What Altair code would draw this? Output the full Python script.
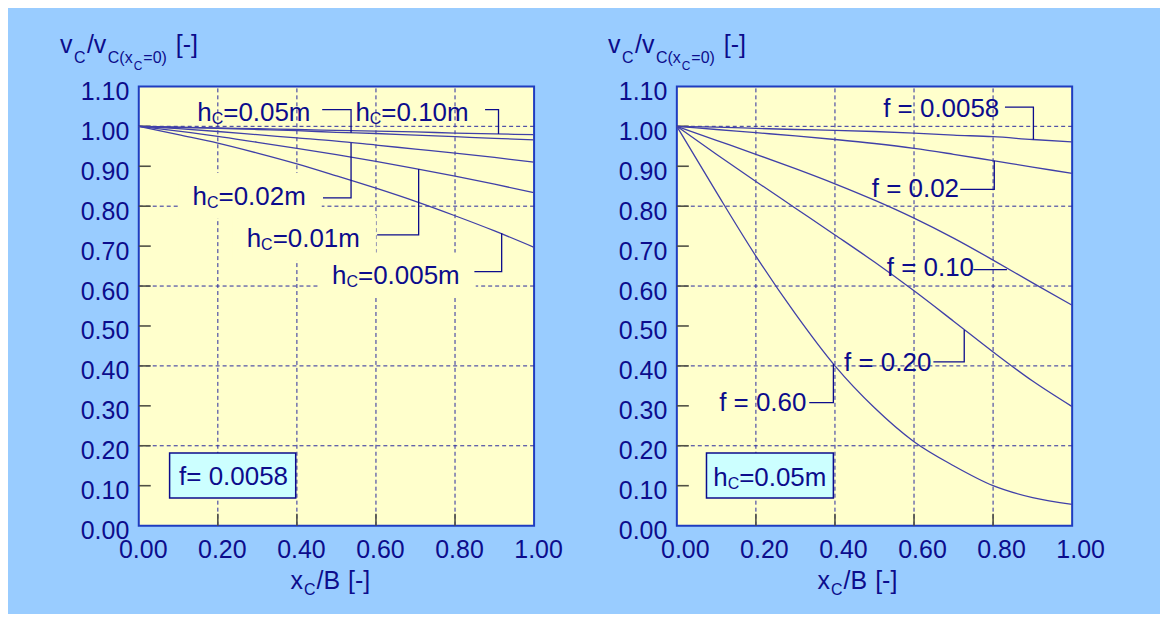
import altair as alt
import pandas as pd

# ---------------- data ----------------
x_vals = [0.0, 0.1, 0.2, 0.3, 0.4, 0.5, 0.6, 0.7, 0.8, 0.9, 1.0]

# left panel: f = 0.0058, one curve per hC
left_names = ["hC=0.10m", "hC=0.05m", "hC=0.02m", "hC=0.01m", "hC=0.005m"]
left_h010 = [1.000, 0.998, 0.996, 0.994, 0.992, 0.990, 0.988, 0.986, 0.983, 0.981, 0.979]
left_h005 = [1.000, 0.997, 0.995, 0.992, 0.989, 0.985, 0.982, 0.978, 0.974, 0.970, 0.966]
left_h002 = [1.000, 0.994, 0.987, 0.979, 0.971, 0.963, 0.953, 0.943, 0.933, 0.922, 0.910]
left_h001 = [1.000, 0.988, 0.975, 0.960, 0.945, 0.929, 0.912, 0.894, 0.875, 0.855, 0.834]
left_h0005 = [1.000, 0.979, 0.958, 0.933, 0.906, 0.876, 0.845, 0.812, 0.776, 0.738, 0.697]

# right panel: hC = 0.05m, one curve per f
right_names = ["f = 0.0058", "f = 0.02", "f = 0.10", "f = 0.20", "f = 0.60"]
right_f00058 = [1.000, 0.998, 0.995, 0.992, 0.990, 0.987, 0.983, 0.978, 0.974, 0.967, 0.961]
right_f002 = [1.000, 0.992, 0.984, 0.976, 0.967, 0.957, 0.945, 0.930, 0.914, 0.898, 0.882]
right_f010 = [1.000, 0.965, 0.930, 0.894, 0.856, 0.815, 0.770, 0.720, 0.665, 0.608, 0.552]
right_f020 = [1.000, 0.930, 0.862, 0.795, 0.728, 0.660, 0.588, 0.512, 0.435, 0.362, 0.298]
right_f060 = [1.000, 0.835, 0.675, 0.530, 0.400, 0.295, 0.210, 0.150, 0.100, 0.070, 0.053]

# axis tick labels / grid
x_ticks = [0.0, 0.2, 0.4, 0.6, 0.8, 1.0]
y_ticks = [0.0, 0.1, 0.2, 0.3, 0.4, 0.5, 0.6, 0.7, 0.8, 0.9, 1.0, 1.1]
grid_x = [0.2, 0.4, 0.6, 0.8]
grid_y = [0.2, 0.4, 0.6, 0.8, 1.0]
minor_y = [0.1, 0.2, 0.3, 0.4, 0.5, 0.6, 0.7, 0.8, 0.9, 1.0]
minor_x = [0.2, 0.4, 0.6, 0.8]

# curve labels (anchor = left end of text, baseline) in data units
left_lab_rest = ["=0.10m", "=0.05m", "=0.02m", "=0.01m", "=0.005m"]
left_lab_x = [0.548, 0.148, 0.136, 0.273, 0.489]
left_lab_y = [1.014, 1.014, 0.803, 0.698, 0.604]
left_masked = [False, False, True, True, True]
# leader lines (label id, x, y)
left_lead_id = [0, 0, 0, 1, 1, 1, 2, 2, 2, 3, 3, 3, 4, 4, 4]
left_lead_x = [0.876, 0.910, 0.910, 0.464, 0.537, 0.537, 0.466, 0.537, 0.537,
               0.603, 0.708, 0.708, 0.849, 0.918, 0.918]
left_lead_y = [1.042, 1.042, 0.981, 1.042, 1.042, 0.984, 0.821, 0.821, 0.959,
               0.728, 0.728, 0.893, 0.636, 0.636, 0.732]

right_lab_x = [0.522, 0.493, 0.531, 0.423, 0.107]
right_lab_y = [1.0225, 0.8225, 0.625, 0.3875, 0.2875]
right_lead_id = [0, 0, 0, 1, 1, 1, 2, 2, 3, 3, 3, 4, 4, 4]
right_lead_x = [0.830, 0.902, 0.902, 0.717, 0.803, 0.803, 0.750, 0.835,
                0.649, 0.727, 0.727, 0.335, 0.396, 0.396]
right_lead_y = [1.048, 1.048, 0.967, 0.842, 0.842, 0.914, 0.641, 0.641,
                0.410, 0.410, 0.490, 0.308, 0.308, 0.405]

# parameter boxes
left_box = {"x1": 0.078, "x2": 0.397, "y1": 0.069, "y2": 0.182, "tx": 0.102, "ty": 0.1025}
right_box = {"x1": 0.075, "x2": 0.396, "y1": 0.069, "y2": 0.182, "tx": 0.092, "ty": 0.100}

# ---------------- style ----------------
FONT = "Liberation Sans"
NAVY = "#0c0c8c"
CURVE = "#4040a8"
GRID = "#2a2a9e"
TICKC = "#505044"
BORDER = "#1f3cc0"
PLOT_BG = "#ffffcc"
BG = "#99ccff"
BOX_FILL = "#ccffff"
W, H = 396, 440
PX_X = 1.0 / W
PX_Y = 1.1 / H

AW = {" ": .278, "(": .333, ")": .333, "-": .333, ".": .278, "/": .278, "=": .584,
      "B": .667, "C": .722, "[": .278, "]": .278, "f": .278, "h": .556, "m": .833,
      "v": .5, "x": .5}


def tw(s, size):
    return sum(AW.get(c, .556) for c in s) * size


XS = alt.Scale(domain=[0, 1], nice=False, zero=False)
YS = alt.Scale(domain=[0, 1.1], nice=False, zero=False)


def x_axis(offset):
    return alt.Axis(values=x_ticks, format=".2f", title=None, grid=False, ticks=False,
                    tickSize=0, domain=False, labelFont=FONT, labelFontSize=25,
                    labelColor=NAVY, labelPadding=12, labelFlush=False,
                    labelOffset=offset, labelOverlap=False)


Y_AXIS = alt.Axis(values=y_ticks, format=".2f", title=None, grid=False, ticks=False,
                  tickSize=0, domain=False, labelFont=FONT, labelFontSize=25,
                  labelColor=NAVY, labelPadding=10, labelFlush=False, labelOffset=5,
                  labelOverlap=False)


def rich(pieces, x0, y0):
    """pieces: (text, font size, baseline shift, gap before)"""
    layers = []
    x = x0
    for text, size, dy, gap in pieces:
        x += gap
        layers.append(
            alt.Chart(pd.DataFrame({"t": [text]}))
            .mark_text(align="left", baseline="alphabetic", font=FONT, fontSize=size, color=NAVY)
            .encode(x=alt.value(x), y=alt.value(y0 + dy), text="t:N")
        )
        x += tw(text, size)
    return layers


def panel(names, series, lab_x, lab_y, lead_id, lead_x, lead_y, box, left, xoff, ytitle_x, xtitle_x):
    XA = x_axis(xoff)

    def X(f):
        return alt.X(f, type="quantitative", scale=XS, axis=XA)

    def Y(f):
        return alt.Y(f, type="quantitative", scale=YS, axis=Y_AXIS)

    rows = []
    for name, vals in zip(names, series):
        for xv, yv in zip(x_vals, vals):
            rows.append({"series": name, "x": xv, "v": yv})
    curves_df = pd.DataFrame(rows)

    gx = pd.DataFrame({"x": grid_x, "y0": 0.0, "y1": 1.1})
    gy = pd.DataFrame({"v": grid_y, "x0": 0.0, "x1": 1.0})
    ty = pd.DataFrame({"v": minor_y, "x0": 0.0, "x1": 12 * PX_X})
    tx = pd.DataFrame({"x": minor_x, "y0": 0.0, "y1": 12 * PX_Y})

    layers = []
    layers.append(alt.Chart(gx).mark_rule(color=GRID, strokeWidth=1, strokeDash=[4, 3])
                  .encode(x=X("x"), y=Y("y0"), y2="y1"))
    layers.append(alt.Chart(gy).mark_rule(color=GRID, strokeWidth=1, strokeDash=[4, 3])
                  .encode(y=Y("v"), x=X("x0"), x2="x1"))

    if left:
        mrows = []
        for rest, xv, yv, m in zip(left_lab_rest, lab_x, lab_y, left_masked):
            if m:
                wpx = tw("h", 26) + tw("C", 16) + tw(rest, 26)
                mrows.append({"x1": xv - 14 * PX_X, "x2": xv + (wpx + 16) * PX_X,
                              "y1": yv - 13 * PX_Y, "y2": yv + 32 * PX_Y})
        layers.append(alt.Chart(pd.DataFrame(mrows)).mark_rect(color=PLOT_BG)
                      .encode(x=X("x1"), x2="x2", y=Y("y1"), y2="y2"))

    layers.append(alt.Chart(ty).mark_rule(color=TICKC, strokeWidth=1.6)
                  .encode(y=Y("v"), x=X("x0"), x2="x1"))
    layers.append(alt.Chart(tx).mark_rule(color=TICKC, strokeWidth=1.6)
                  .encode(x=X("x"), y=Y("y0"), y2="y1"))

    layers.append(alt.Chart(curves_df).mark_line(color=CURVE, strokeWidth=1.3, interpolate="monotone")
                  .encode(x=X("x"), y=Y("v"), detail="series:N"))

    lead_df = pd.DataFrame({"id": lead_id, "x": lead_x, "v": lead_y,
                            "k": list(range(len(lead_id)))})
    layers.append(alt.Chart(lead_df).mark_line(color=NAVY, strokeWidth=1.3)
                  .encode(x=X("x"), y=Y("v"), detail="id:N", order="k:Q"))

    hw = tw("h", 26)
    cw = tw("C", 16)
    if left:
        lab_df = pd.DataFrame({"x": lab_x, "v": lab_y, "rest": left_lab_rest})
        base = alt.Chart(lab_df)
        layers.append(base.mark_text(align="left", baseline="alphabetic", font=FONT, fontSize=26,
                                     color=NAVY).encode(x=X("x"), y=Y("v"), text=alt.value("h")))
        layers.append(base.mark_text(align="left", baseline="alphabetic", font=FONT, fontSize=16,
                                     color=NAVY, dx=hw, dy=3).encode(x=X("x"), y=Y("v"), text=alt.value("C")))
        layers.append(base.mark_text(align="left", baseline="alphabetic", font=FONT, fontSize=26,
                                     color=NAVY, dx=hw + cw).encode(x=X("x"), y=Y("v"), text="rest:N"))
    else:
        lab_df = pd.DataFrame({"x": lab_x, "v": lab_y, "t": names})
        layers.append(alt.Chart(lab_df).mark_text(align="left", baseline="alphabetic", font=FONT,
                                                  fontSize=26, color=NAVY)
                      .encode(x=X("x"), y=Y("v"), text="t:N"))

    bdf = pd.DataFrame([box])
    layers.append(alt.Chart(bdf).mark_rect(fill=BOX_FILL, stroke=NAVY, strokeWidth=1.5)
                  .encode(x=X("x1"), x2="x2", y=Y("y1"), y2="y2"))
    if left:
        layers.append(alt.Chart(bdf.assign(t="f= 0.0058")).mark_text(
            align="left", baseline="alphabetic", font=FONT, fontSize=26, color=NAVY)
            .encode(x=X("tx"), y=Y("ty"), text="t:N"))
    else:
        bb = alt.Chart(bdf)
        layers.append(bb.mark_text(align="left", baseline="alphabetic", font=FONT, fontSize=26,
                                   color=NAVY).encode(x=X("tx"), y=Y("ty"), text=alt.value("h")))
        layers.append(bb.mark_text(align="left", baseline="alphabetic", font=FONT, fontSize=16,
                                   color=NAVY, dx=hw, dy=3).encode(x=X("tx"), y=Y("ty"), text=alt.value("C")))
        layers.append(bb.mark_text(align="left", baseline="alphabetic", font=FONT, fontSize=26,
                                   color=NAVY, dx=hw + cw).encode(x=X("tx"), y=Y("ty"), text=alt.value("=0.05m")))

    # axis titles with subscripts
    layers += rich([("v", 25, 0, 0), ("C", 16, 10, 1.5), ("/v", 25, 0, 1.5), ("C(x", 16, 10, 1.5),
                    ("C", 12, 17, 1), ("=0)", 16, 10, 1), ("[-]", 25, 0, 9)], ytitle_x, -33)
    layers += rich([("x", 25, 0, 0), ("C", 16, 6, 1), ("/B", 25, 0, 1), ("[-]", 25, 0, 8)],
                   xtitle_x, 503)

    return alt.layer(*layers).properties(width=W, height=H)


left_chart = panel(left_names, [left_h010, left_h005, left_h002, left_h001, left_h0005],
                   left_lab_x, left_lab_y, left_lead_id, left_lead_x, left_lead_y, left_box,
                   True, 4, -79, 152)
right_chart = panel(right_names, [right_f00058, right_f002, right_f010, right_f020, right_f060],
                    right_lab_x, right_lab_y, right_lead_id, right_lead_x, right_lead_y, right_box,
                    False, 8, -69, 141)

chart = (
    alt.hconcat(left_chart, right_chart, spacing=143, bounds="flush")
    .properties(padding={"left": 51, "top": 24, "right": 54, "bottom": 15})
    .configure(background=BG)
    .configure_view(fill=PLOT_BG, stroke=BORDER, strokeWidth=2)
)

chart.save("out.html", embed_options={"renderer": "svg", "actions": False})
